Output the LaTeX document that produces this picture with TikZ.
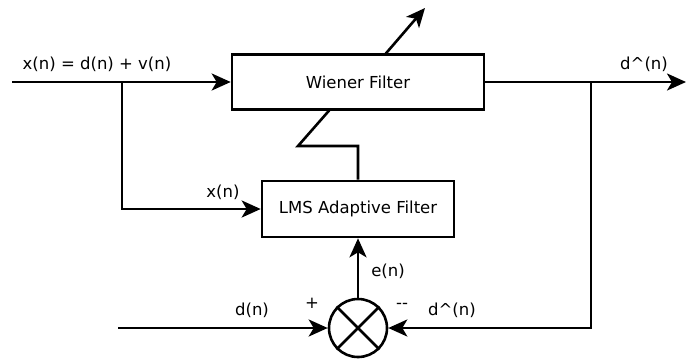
\documentclass[tikz,border=0pt]{standalone}
\usepackage{fontspec}
\setmainfont{DejaVu Sans}
\usetikzlibrary{arrows.meta}
\begin{document}
\begin{tikzpicture}[x=1pt,y=-1pt,line width=2.6pt,
  >={Stealth[length=19pt,width=17pt,inset=5pt]},
  box/.style={draw,line width=2.6pt,inner sep=0pt},
  lbl/.style={font=\fontsize{16.5}{19}\selectfont,inner sep=0pt}]
\useasboundingbox (0,0) rectangle (687,360);
\node[box,minimum width=252pt,minimum height=55pt,lbl] (wf) at (358,82) {Wiener Filter};
\node[box,minimum width=192pt,minimum height=56pt,lbl] (lms) at (358,209) {LMS Adaptive Filter};
\node[circle,draw,minimum size=58pt,inner sep=0pt] (sum) at (358,328) {};
\draw (sum.north west) -- (sum.south east);
\draw (sum.north east) -- (sum.south west);
\coordinate (in) at (12,82);
\coordinate (br1) at (122,82);
\coordinate (out) at (686,82);
\coordinate (br2) at (591,82);
\coordinate (dn) at (118,328);
\coordinate (adj0) at (385,54.5);
\coordinate (adj) at (425,8);
\coordinate (z1) at (358,146);
\coordinate (z2) at (298,146);
\coordinate (z3) at (330,109.5);
\draw[->] (in) -- (wf.west);
\draw[->] (br1) |- (lms.west);
\draw[->] (wf.east) -- (out);
\draw[->] (br2) |- (sum.east);
\draw[->] (dn) -- (sum.west);
\draw[->] (sum.north) -- (lms.south);
\draw (lms.north) -- (z1) -- (z2) -- (z3);
\draw[->] (adj0) -- (adj);
\node[lbl] (l1) at (97,64) {x(n) = d(n) + v(n)};
\node[lbl] (l2) at (644,64) {d\textasciicircum(n)};
\node[lbl] (l3) at (223,192) {x(n)};
\node[lbl] (l4) at (388,271) {e(n)};
\node[lbl] (l5) at (252,310) {d(n)};
\node[lbl,anchor=base] (l6) at (312,308) {+};
\node[lbl,anchor=base] (l7) at (402,308) {-{}-};
\node[lbl] (l8) at (452,310) {d\textasciicircum(n)};
\end{tikzpicture}
\end{document}
